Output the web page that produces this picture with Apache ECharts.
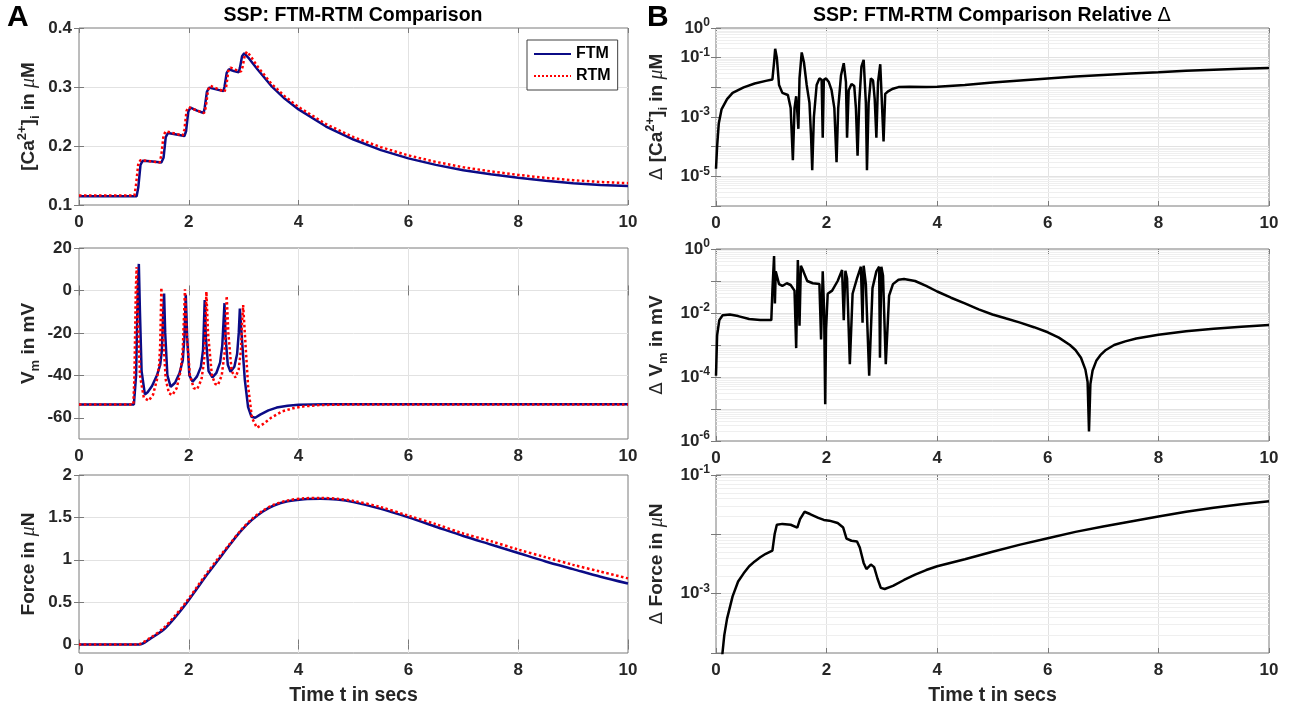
<!DOCTYPE html>
<html><head><meta charset="utf-8">
<script src="https://cdn.jsdelivr.net/npm/echarts@6/dist/echarts.min.js"></script>
<style>html,body{margin:0;padding:0;background:#fff}#c{width:1296px;height:707px}</style>
</head><body><div id="c"></div>
<script>
// ---------- data ----------
const caTimeFTM = [0,1.05,1.08,1.12,1.16,1.3,1.5,1.54,1.58,1.62,1.75,1.92,1.95,1.99,2.03,2.15,2.27,2.29,2.33,2.37,2.5,2.63,2.65,2.69,2.73,2.82,2.91,2.93,2.97,3.01,3.1,3.25,3.5,3.75,4,4.5,5,5.5,6,6.5,7,7.5,8,8.5,9,9.5,10];
const caFTM = [0.115,0.115,0.13,0.168,0.175,0.174,0.172,0.18,0.215,0.222,0.22,0.217,0.225,0.258,0.265,0.26,0.256,0.265,0.292,0.299,0.296,0.293,0.3,0.324,0.33,0.327,0.325,0.332,0.352,0.357,0.348,0.33,0.302,0.28,0.262,0.233,0.211,0.193,0.179,0.168,0.159,0.152,0.146,0.141,0.137,0.134,0.132];
const caTimeRTM = [0,1.01,1.04,1.08,1.12,1.3,1.47,1.5,1.54,1.58,1.75,1.89,1.92,1.96,2.0,2.15,2.28,2.31,2.35,2.39,2.55,2.65,2.68,2.72,2.76,2.86,2.95,2.98,3.02,3.06,3.12,3.25,3.5,3.75,4,4.5,5,5.5,6,6.5,7,7.5,8,8.5,9,9.5,10];
const caRTM = [0.116,0.116,0.135,0.17,0.176,0.174,0.172,0.185,0.218,0.225,0.221,0.218,0.228,0.26,0.266,0.26,0.256,0.266,0.295,0.302,0.296,0.292,0.3,0.327,0.333,0.329,0.326,0.334,0.354,0.36,0.353,0.335,0.306,0.284,0.266,0.237,0.215,0.198,0.184,0.173,0.164,0.157,0.151,0.146,0.142,0.139,0.137];

const vmTimeFTM = [0,1.0,1.04,1.07,1.09,1.11,1.14,1.2,1.25,1.33,1.42,1.48,1.51,1.535,1.55,1.57,1.61,1.67,1.75,1.83,1.89,1.92,1.945,1.97,2.01,2.07,2.15,2.22,2.26,2.29,2.31,2.36,2.43,2.5,2.57,2.61,2.65,2.67,2.71,2.76,2.83,2.88,2.91,2.93,2.96,3.02,3.08,3.14,3.21,3.3,3.45,3.6,3.8,4.0,4.5,5,10];
const vmFTM = [-53.7,-53.7,-40,0,12.5,-10,-38,-49,-48,-45,-40,-35,-28,-10,-1.5,-20,-40,-45.4,-43.5,-39,-33,-22,-2,-22,-40,-43,-40.5,-36,-28,-4.5,-22,-38,-41,-39,-34,-26,-6,-22,-35,-38.3,-36,-30,-20,-8.5,-20,-42,-55,-59.5,-60,-58.5,-56.5,-55.2,-54.3,-53.9,-53.6,-53.6,-53.6];
const vmTimeRTM = [0,0.99,1.01,1.035,1.05,1.07,1.11,1.18,1.27,1.35,1.42,1.46,1.48,1.5,1.53,1.58,1.64,1.7,1.78,1.85,1.89,1.93,1.96,2.02,2.09,2.15,2.23,2.28,2.3,2.32,2.35,2.42,2.48,2.53,2.6,2.65,2.67,2.69,2.72,2.78,2.85,2.91,2.95,2.97,2.99,3.02,3.08,3.15,3.24,3.35,3.5,3.7,3.9,4.1,4.4,4.8,5.2,10];
const vmRTM = [-53.7,-53.7,-40,0,11,-10,-40,-50.5,-52,-49,-42,-35,-25,1.3,-20,-42,-48.5,-49.3,-46,-38,-28,0.5,-20,-40,-46,-46.6,-42,-33,-20,-0.6,-20,-40,-44,-44.6,-40,-30,-18,-2.6,-20,-38,-41.1,-37,-28,-15,-6.9,-20,-45,-60,-64.7,-63,-60,-57,-55.5,-54.6,-54,-53.8,-53.7,-53.7];

const forceTimeFTM = [0,1.1,1.3,1.55,1.75,1.95,2.15,2.35,2.55,2.75,2.95,3.15,3.35,3.55,3.8,4.1,4.4,4.7,5,5.5,6,6.5,7,7.5,8,8.5,9,9.5,10];
const forceFTM = [0,0,0.07,0.18,0.32,0.48,0.66,0.84,1.01,1.18,1.34,1.47,1.57,1.64,1.69,1.715,1.72,1.71,1.68,1.6,1.5,1.39,1.28,1.18,1.08,0.98,0.89,0.8,0.72];
const forceTimeRTM = [0,1.05,1.3,1.55,1.75,1.95,2.15,2.35,2.55,2.75,2.95,3.15,3.35,3.55,3.8,4.1,4.4,4.7,5,5.5,6,6.5,7,7.5,8,8.5,9,9.5,10];
const forceRTM = [0,0,0.08,0.2,0.34,0.5,0.68,0.86,1.03,1.19,1.35,1.48,1.58,1.65,1.7,1.725,1.73,1.72,1.695,1.62,1.52,1.42,1.31,1.22,1.12,1.03,0.94,0.86,0.78];

const dCaTime = [0,0.02,0.05,0.1,0.2,0.3,0.5,0.7,0.9,1.02,1.05,1.07,1.1,1.14,1.2,1.3,1.35,1.39,1.42,1.45,1.47,1.49,1.51,1.55,1.59,1.64,1.69,1.72,1.74,1.77,1.82,1.87,1.91,1.93,1.95,1.99,2.04,2.09,2.14,2.18,2.21,2.26,2.31,2.35,2.37,2.4,2.45,2.5,2.53,2.56,2.59,2.63,2.67,2.71,2.73,2.76,2.8,2.84,2.87,2.9,2.93,2.97,3.0,3.03,3.06,3.12,3.2,3.3,3.5,3.8,4.0,4.5,5,5.5,6,6.5,7,7.5,8,8.5,9,9.5,10];
const dCa = [1.8e-5,1e-4,6e-4,1.8e-3,4e-3,6.5e-3,1e-2,1.35e-2,1.65e-2,1.85e-2,0.07,0.2,0.1,0.012,6.5e-3,5.5e-3,2e-3,3.5e-5,2e-3,5e-3,1.5e-3,4e-4,0.02,0.15,0.07,0.012,3e-3,2e-4,1.6e-5,1e-3,0.012,0.02,0.018,2e-4,0.018,0.02,0.015,0.008,2e-3,3e-5,2e-3,0.025,0.065,0.015,2e-4,0.008,0.013,0.011,2e-3,5e-5,3e-3,0.05,0.085,3e-3,1.6e-5,3e-3,0.02,0.017,4e-3,2e-4,0.015,0.06,3e-3,1.5e-4,6e-3,7.5e-3,9e-3,0.0102,0.0105,0.0103,0.0105,0.012,0.0145,0.017,0.02,0.023,0.026,0.029,0.032,0.036,0.039,0.042,0.045];

const dVmTime = [0,0.02,0.06,0.12,0.25,0.4,0.6,0.8,1.0,1.02,1.05,1.065,1.08,1.11,1.14,1.2,1.28,1.35,1.42,1.45,1.48,1.51,1.535,1.58,1.65,1.75,1.87,1.9,1.93,1.955,1.975,1.99,2.02,2.1,2.2,2.28,2.31,2.34,2.37,2.42,2.47,2.55,2.62,2.65,2.67,2.71,2.77,2.83,2.9,2.95,2.965,2.99,3.02,3.07,3.13,3.2,3.3,3.4,3.6,3.8,4.0,4.25,4.5,4.75,5.0,5.25,5.5,5.75,6.0,6.2,6.4,6.5,6.6,6.68,6.72,6.745,6.77,6.81,6.88,6.95,7.05,7.2,7.4,7.6,8.0,8.5,9.0,9.5,10];
const dVm = [1.1e-4,2e-3,6e-3,8.5e-3,9e-3,8e-3,6.5e-3,6e-3,6e-3,0.05,0.6,0.02,0.2,0.18,0.08,0.07,0.085,0.075,0.05,8e-4,0.45,4e-3,0.3,0.2,0.1,0.085,0.08,1.5e-3,0.2,0.012,1.4e-5,3e-3,0.04,0.05,0.1,0.22,6e-3,0.21,0.12,2.5e-4,0.04,0.12,0.28,5e-3,0.3,0.08,1.1e-4,0.06,0.2,0.28,4e-4,0.28,0.15,2.5e-4,0.035,0.08,0.11,0.115,0.1,0.07,0.047,0.03,0.02,0.013,9e-3,6.7e-3,5e-3,3.6e-3,2.5e-3,1.7e-3,1e-3,7e-4,4e-4,1.7e-4,7e-5,2e-6,6e-5,1.6e-4,3.3e-4,4.8e-4,7e-4,1e-3,1.3e-3,1.6e-3,2.1e-3,2.7e-3,3.2e-3,3.7e-3,4.2e-3];

const dForceTime = [0.1,0.15,0.2,0.3,0.4,0.5,0.6,0.7,0.8,0.9,1.02,1.06,1.1,1.2,1.35,1.47,1.52,1.6,1.7,1.85,1.95,2.05,2.2,2.3,2.36,2.45,2.55,2.6,2.67,2.72,2.8,2.86,2.92,2.98,3.05,3.2,3.4,3.6,3.8,4.0,4.5,5,5.5,6,6.5,7,7.5,8,8.5,9,9.5,10];
const dForce = [7e-5,2e-4,3.8e-4,9e-4,1.6e-3,2.2e-3,2.9e-3,3.5e-3,4.1e-3,4.7e-3,5.3e-3,0.01,0.0145,0.015,0.0145,0.013,0.018,0.024,0.022,0.019,0.0175,0.017,0.0155,0.013,0.0085,0.0078,0.0076,0.006,0.0033,0.0026,0.0031,0.0028,0.0018,0.00125,0.0012,0.00135,0.0017,0.0021,0.0025,0.0029,0.0038,0.0051,0.0067,0.0086,0.011,0.0135,0.0165,0.02,0.024,0.028,0.032,0.036];

// tick labels
const timeTicks = [0, 10, 2];            // min, max, step
const caTicks = [0.1, 0.4, 0.1];
const vmTickLabels = [-60, -40, -20, 0, 20];
const forceTickLabels = [0, 0.5, 1, 1.5, 2];
const dCaExpLabels = [0, -1, -3, -5];
const dVmExpLabels = [0, -2, -4, -6];
const dForceExpLabels = [-1, -3];

// ---------- chart ----------
const FONT = "'Liberation Sans', Arial, Helvetica, sans-serif";
const TXT = '#262626';
const BOX = '#7a7a7a';
const GRIDC = '#e2e2e2';
const MINORC = '#efefef';
const BLUE = '#0b0b86';
const RED = '#ff0000';
const zip = (t, v) => t.map((x, i) => [x, v[i]]);

const gridBoxes = [
  {left: 79, top: 28, width: 549, height: 177},
  {left: 79, top: 248, width: 549, height: 191},
  {left: 79, top: 475, width: 549, height: 178},
  {left: 716, top: 28, width: 553, height: 178},
  {left: 716, top: 249, width: 553, height: 192},
  {left: 716, top: 475, width: 553, height: 179}
];
const grids = gridBoxes.map(g => Object.assign({show: true, borderColor: BOX, borderWidth: 1, backgroundColor: '#fff', containLabel: false}, g));

const nameRich = {
  n: {fontFamily: FONT, fontWeight: 'bold', fontSize: 19, color: TXT, lineHeight: 26},
  p: {fontFamily: FONT, fontWeight: 'bold', fontSize: 13, color: TXT, lineHeight: 13, verticalAlign: 'top'},
  q: {fontFamily: FONT, fontWeight: 'bold', fontSize: 13, color: TXT, lineHeight: 13, verticalAlign: 'bottom'},
  m: {fontFamily: "'Liberation Serif', serif", fontStyle: 'italic', fontSize: 20, color: TXT, lineHeight: 26},
  d: {fontFamily: "'DejaVu Sans', sans-serif", fontWeight: 'normal', fontSize: 18, color: TXT, lineHeight: 26}
};
const labelBase = {color: TXT, fontFamily: FONT, fontWeight: 'bold', fontSize: 17};
const tickBase = {inside: true, length: 5, lineStyle: {color: BOX}};
const splitBase = {show: true, showMinLine: false, showMaxLine: false, lineStyle: {color: GRIDC, width: 1}};

function xAxis(gi, named) {
  return {
    type: 'value', gridIndex: gi, min: timeTicks[0], max: timeTicks[1], interval: timeTicks[2],
    axisLine: {show: false}, axisTick: tickBase,
    axisLabel: Object.assign({margin: 9}, labelBase),
    splitLine: splitBase,
    name: named ? 'Time t in secs' : '', nameLocation: 'middle', nameGap: 33,
    nameTextStyle: {fontFamily: FONT, fontWeight: 'bold', fontSize: 19.5, color: TXT}
  };
}
function xMirror(gi) {
  return {
    type: 'value', gridIndex: gi, position: 'top', min: timeTicks[0], max: timeTicks[1], interval: timeTicks[2],
    axisLine: {show: false}, axisTick: tickBase, axisLabel: {show: false}, splitLine: {show: false}
  };
}
function logFmt(show) {
  return v => {
    const e = Math.round(Math.log10(v));
    return show.indexOf(e) >= 0 ? '{b|10}{s|' + e + '}' : '';
  };
}
const logRich = {
  b: {fontFamily: FONT, fontWeight: 'bold', fontSize: 17, color: TXT, lineHeight: 22},
  s: {fontFamily: FONT, fontWeight: 'bold', fontSize: 12, color: TXT, lineHeight: 11, verticalAlign: 'top'}
};
function logAxis(gi, minE, maxE, show, name, gap) {
  return {
    type: 'log', logBase: 10, gridIndex: gi, min: Math.pow(10, minE), max: Math.pow(10, maxE),
    axisLine: {show: false}, axisTick: tickBase,
    axisLabel: {formatter: logFmt(show), rich: logRich, margin: 6, showMinLabel: true, showMaxLabel: true},
    splitLine: splitBase,
    name: name, nameLocation: 'middle', nameRotate: 90, nameGap: gap,
    nameTextStyle: {rich: nameRich}
  };
}
function logMirror(gi, minE, maxE) {
  return {
    type: 'log', logBase: 10, gridIndex: gi, position: 'right', min: Math.pow(10, minE), max: Math.pow(10, maxE),
    axisLine: {show: false}, axisTick: tickBase, axisLabel: {show: false}, splitLine: {show: false}
  };
}
function valMirror(gi, min, max, ticks) {
  return {
    type: 'value', gridIndex: gi, position: 'right', min: min, max: max,
    axisLine: {show: false}, axisTick: Object.assign({customValues: ticks}, tickBase),
    axisLabel: {show: false, customValues: ticks}, splitLine: {show: false}
  };
}
function minorLines(minE, maxE) {
  const out = [];
  for (let e = minE; e < maxE; e++) {
    for (let k = 2; k <= 9; k++) out.push({yAxis: Number((k * Math.pow(10, e)).toPrecision(3))});
  }
  return out;
}
function minorSeries(idx, minE, maxE) {
  return {
    type: 'line', xAxisIndex: idx, yAxisIndex: idx, data: [], silent: true, z: 1,
    markLine: {silent: true, precision: 12, symbol: ['none', 'none'], label: {show: false}, animation: false,
      lineStyle: {color: MINORC, width: 1, type: 'solid'}, emphasis: {disabled: true},
      data: minorLines(minE, maxE)}
  };
}
function lineSeries(name, idx, data, color, dotted, smooth) {
  return {
    name: name, type: 'line', xAxisIndex: idx, yAxisIndex: idx, data: data,
    symbol: 'none', showSymbol: false, z: 10, clip: true,
    smooth: smooth || false,
    lineStyle: {color: color, width: 2.5, type: dotted ? 'dotted' : 'solid'},
    itemStyle: {color: color}, emphasis: {disabled: true}
  };
}

const option = {
  animation: false,
  backgroundColor: '#ffffff',
  grid: grids,
  legend: {
    data: ['FTM', 'RTM'], orient: 'vertical', left: 527, top: 40,
    itemWidth: 37, itemHeight: 12, itemGap: 6, padding: [6, 7, 6, 6],
    borderColor: '#404040', borderWidth: 1, backgroundColor: '#fff',
    itemStyle: {opacity: 0},
    textStyle: {fontFamily: FONT, fontWeight: 'bold', fontSize: 16, color: '#000'}
  },
  xAxis: [xAxis(0, false), xAxis(1, false), xAxis(2, true), xAxis(3, false), xAxis(4, false), xAxis(5, true),
    xMirror(0), xMirror(1), xMirror(2), xMirror(3), xMirror(4), xMirror(5)],
  yAxis: [
    {type: 'value', gridIndex: 0, min: caTicks[0], max: caTicks[1], interval: caTicks[2],
      axisLine: {show: false}, axisTick: tickBase,
      axisLabel: Object.assign({margin: 7, formatter: v => v.toFixed(1)}, labelBase),
      splitLine: splitBase,
      name: '{n|[Ca}{p|2+}{n|]}{q|i}{n| in }{m|μ}{n|M}', nameLocation: 'middle', nameRotate: 90, nameGap: 37,
      nameTextStyle: {rich: nameRich}},
    {type: 'value', gridIndex: 1, min: -70, max: 20,
      axisLine: {show: false}, axisTick: Object.assign({customValues: vmTickLabels}, tickBase),
      axisLabel: Object.assign({margin: 7, customValues: vmTickLabels}, labelBase),
      splitLine: splitBase,
      name: '{n|V}{q|m}{n| in mV}', nameLocation: 'middle', nameRotate: 90, nameGap: 37,
      nameTextStyle: {rich: nameRich}},
    {type: 'value', gridIndex: 2, min: -0.1, max: 2,
      axisLine: {show: false}, axisTick: Object.assign({customValues: forceTickLabels}, tickBase),
      axisLabel: Object.assign({margin: 7, customValues: forceTickLabels}, labelBase),
      splitLine: splitBase,
      name: '{n|Force in }{m|μ}{n|N}', nameLocation: 'middle', nameRotate: 90, nameGap: 37,
      nameTextStyle: {rich: nameRich}},
    logAxis(3, -6, 0, dCaExpLabels, '{d|Δ }{n|[Ca}{p|2+}{n|]}{q|i}{n| in }{m|μ}{n|M}', 46),
    logAxis(4, -6, 0, dVmExpLabels, '{d|Δ }{n|V}{q|m}{n| in mV}', 46),
    logAxis(5, -4, -1, dForceExpLabels, '{d|Δ }{n|Force in }{m|μ}{n|N}', 46),
    {type: 'value', gridIndex: 0, position: 'right', min: caTicks[0], max: caTicks[1], interval: caTicks[2],
      axisLine: {show: false}, axisTick: tickBase, axisLabel: {show: false}, splitLine: {show: false}},
    valMirror(1, -70, 20, vmTickLabels),
    valMirror(2, -0.1, 2, forceTickLabels),
    logMirror(3, -6, 0),
    logMirror(4, -6, 0),
    logMirror(5, -4, -1)
  ],
  graphic: [
    {type: 'text', left: 7, top: 3, style: {text: 'A', font: 'bold 30px ' + FONT, fill: '#000'}},
    {type: 'text', left: 647, top: 3, style: {text: 'B', font: 'bold 30px ' + FONT, fill: '#000'}},
    {type: 'text', x: 353, y: 16, style: {text: 'SSP: FTM-RTM Comparison', font: 'bold 19.5px ' + FONT, fill: '#000', align: 'center', verticalAlign: 'middle'}},
    {type: 'text', x: 992, y: 16, style: {text: '{t|SSP: FTM-RTM Comparison Relative }{d|Δ}', align: 'center', verticalAlign: 'middle',
      rich: {t: {font: 'bold 19.5px ' + FONT, fill: '#000'}, d: {font: 'normal 19.5px "DejaVu Sans", sans-serif', fill: '#000'}}}}
  ],
  series: [
    lineSeries('FTM', 0, zip(caTimeFTM, caFTM), BLUE, false),
    lineSeries('RTM', 0, zip(caTimeRTM, caRTM), RED, true),
    lineSeries('FTM', 1, zip(vmTimeFTM, vmFTM), BLUE, false),
    lineSeries('RTM', 1, zip(vmTimeRTM, vmRTM), RED, true),
    lineSeries('FTM', 2, zip(forceTimeFTM, forceFTM), BLUE, false, 0.3),
    lineSeries('RTM', 2, zip(forceTimeRTM, forceRTM), RED, true, 0.3),
    minorSeries(3, -6, 0),
    minorSeries(4, -6, 0),
    minorSeries(5, -4, -1),
    lineSeries('dCa', 3, zip(dCaTime, dCa), '#000', false),
    lineSeries('dVm', 4, zip(dVmTime, dVm), '#000', false),
    lineSeries('dForce', 5, zip(dForceTime, dForce), '#000', false)
  ]
};
const chart = echarts.init(document.getElementById('c'), null, {renderer: 'canvas'});
chart.setOption(option);
</script>
</body></html>
